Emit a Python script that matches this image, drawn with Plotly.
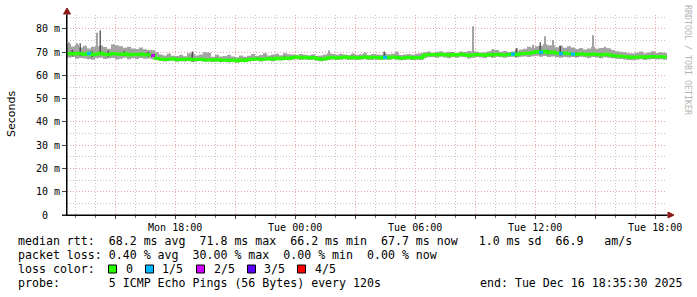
import plotly.graph_objects as go
import pandas as pd

# ---------------- data ----------------
START = "2025-12-15 12:35:30"
END = "2025-12-16 18:35:30"
STEP = "12min"

median_ms = [
    69.4, 69.2, 69.6, 69.3, 69.0, 69.5, 68.9, 69.2, 69.6, 69.1, 68.9, 69.4, 69.2, 69.0, 69.3, 68.8, 69.1, 68.9, 69.2, 68.8, 68.9,
    68.6, 67.4,
    67.1, 66.9, 67.0, 67.2, 66.8, 67.0, 66.9, 67.1, 66.8, 66.9, 67.0, 66.7, 66.8, 66.6, 66.9, 66.5, 66.7, 66.4, 66.6, 66.3, 66.6,
    66.4, 66.9, 67.0, 67.2, 66.9, 67.1, 67.3, 67.0, 67.4, 67.2, 67.5, 67.3,
    67.7, 67.9, 67.6, 67.8, 67.5, 67.7, 67.3, 67.0, 67.2, 67.6, 67.8, 67.5, 67.7, 67.9, 67.6, 67.8, 67.5, 67.7, 67.9, 67.6,
    67.8, 67.7, 67.5, 67.8, 67.6, 67.9, 67.7, 67.4, 67.6, 67.8, 67.5, 67.7, 67.6,
    68.7, 68.9, 69.0, 68.8, 69.1, 68.9, 68.7, 69.0, 68.8, 69.1, 68.9, 68.6, 68.8, 69.0, 68.9, 68.7, 69.0, 68.8, 69.1, 68.9,
    68.8, 69.0, 69.2, 68.9,
    69.3, 69.6, 69.4, 69.9, 70.3, 70.0, 70.4, 69.8, 70.1, 69.6, 69.4, 69.7, 69.3,
    69.2, 69.0, 69.3, 69.1, 68.9, 69.2, 69.0, 68.8, 69.1, 68.9,
    68.6, 68.4, 68.3, 68.1, 67.9, 67.7, 67.9, 68.1, 67.8, 68.0, 68.2, 68.0, 68.1, 67.9, 67.7,
]

smoke_hi_ms = [
    73.6, 72.5, 73.2, 72.0, 72.8, 71.6, 72.4, 72.6, 72.9, 72.2, 71.5, 73.4, 73.0, 72.6, 71.9, 72.3, 71.6, 71.4, 72.0, 71.3, 71.0,
    70.8, 70.0,
    69.0, 68.6, 69.4, 68.5, 68.4, 68.9, 68.3, 69.5, 69.2, 68.6, 69.0, 70.0, 69.8, 68.1, 68.9, 68.2, 68.4, 68.9, 68.2, 67.8, 68.6,
    68.0, 68.5, 69.2, 68.4, 68.8, 69.6, 68.6, 69.0, 69.3, 68.7, 69.5, 69.1,
    69.0, 68.8, 69.2, 68.9, 68.7, 69.1, 68.5, 68.6, 69.0, 69.6, 69.2, 68.9, 69.3, 69.0, 68.8, 69.4, 68.9, 69.1, 69.6, 68.8,
    69.2, 69.0, 68.9, 69.5, 69.1, 69.3, 69.9, 68.8, 69.0, 69.2, 68.9, 69.3, 69.5,
    70.0, 70.3, 69.8, 70.1, 70.4, 69.9, 70.2, 70.0, 69.7, 70.3, 70.1, 70.5, 70.3, 70.2, 69.9, 70.0, 70.4, 70.9, 71.0, 70.2,
    70.5, 70.1, 70.3, 70.6,
    71.2, 71.5, 72.3, 71.9, 72.6, 72.8, 73.5, 73.0, 73.0, 72.1, 72.8, 71.9, 72.6,
    72.0, 71.4, 71.8, 71.2, 71.6, 72.2, 71.5, 71.8, 71.9, 71.7,
    71.0, 70.4, 70.2, 70.0, 69.6, 69.4, 69.8, 70.3, 69.5, 69.9, 70.4, 69.7, 70.0, 69.8, 69.6,
]

smoke_lo_ms = [
    67.6, 67.9, 67.2, 67.5, 67.3, 67.0, 66.8, 67.4, 67.6, 67.1, 67.3, 67.5, 66.9, 67.2, 67.6, 67.0, 67.4, 67.1, 67.5, 67.2, 67.3,
    67.0, 66.6,
    66.3, 66.0, 66.2, 66.4, 65.9, 66.1, 66.0, 66.3, 65.8, 66.0, 66.2, 65.9, 66.0, 65.8, 66.1, 65.7, 65.9, 65.6, 65.8, 65.5, 65.8,
    65.7, 66.0, 66.2, 66.4, 66.0, 66.3, 66.5, 66.1, 66.6, 66.4, 66.7, 66.5,
    66.8, 67.0, 66.7, 66.9, 66.6, 66.8, 66.4, 66.1, 66.3, 66.7, 66.9, 66.6, 66.8, 67.0, 66.7, 66.9, 66.6, 66.8, 67.0, 66.7,
    66.9, 66.8, 66.6, 66.9, 66.7, 67.0, 66.8, 66.5, 66.7, 66.9, 66.6, 66.8, 66.7,
    67.5, 67.8, 67.9, 67.6, 68.0, 67.7, 67.4, 67.9, 67.6, 68.0, 67.8, 67.3, 67.6, 67.9, 67.7, 67.5, 67.9, 67.6, 68.0, 67.8,
    67.6, 67.9, 68.1, 67.7,
    68.0, 68.2, 67.9, 68.3, 68.5, 68.1, 68.4, 67.9, 68.2, 67.8, 67.6, 67.9, 67.7,
    67.9, 67.7, 68.0, 67.8, 67.5, 67.9, 67.7, 67.4, 67.8, 67.6,
    67.4, 67.2, 67.1, 66.9, 66.7, 66.5, 66.8, 67.0, 66.7, 66.9, 67.1, 66.9, 67.0, 66.8, 66.6,
]

# thin light-grey smoke spikes (sample index, top)
spike_idx = [0, 2, 7, 31, 65, 74, 82, 101, 106, 112, 116, 119, 121, 131, 134]
spike_top_ms = [74.3, 73.9, 78.4, 70.3, 70.7, 69.9, 70.3, 81.2, 71.4, 71.8, 73.2, 76.9, 75.3, 77.3, 72.3]

# darker smoke strokes (sample index, low, high)
dark_idx = [1, 3, 6, 8, 10, 14, 20, 31, 37, 44, 51, 54, 62, 71, 76, 79, 86, 96, 106, 112, 118, 120, 123, 127, 133, 136, 146]
dark_lo_ms = [68.3, 68.5, 67.8, 68.8, 67.9, 68.4, 68.0, 66.0, 66.0, 65.8, 66.3, 66.8, 66.5, 67.0, 66.9, 67.1, 66.8,
              68.2, 68.0, 68.1, 69.0, 69.0, 68.6, 68.2, 68.0, 67.8, 67.4]
dark_hi_ms = [71.0, 73.9, 70.4, 79.3, 70.6, 70.5, 70.1, 70.2, 67.6, 67.2, 67.9, 68.3, 68.0, 68.5, 68.4, 70.3, 68.3,
              69.9, 69.7, 71.5, 74.3, 71.0, 72.8, 70.0, 69.6, 69.4, 69.0]

# samples with packet loss (index, lost pings out of 5)
loss_idx = [5, 21, 79, 111, 118, 123, 126]
loss_level = [1, 2, 1, 1, 1, 1, 1]

loss_labels = ["0", "1/5", "2/5", "3/5", "4/5"]
loss_colors = ["#26ff00", "#00b8ff", "#d000ff", "#5a00ff", "#ff0000"]

y_tick_vals = [0, 10, 20, 30, 40, 50, 60, 70, 80]
y_tick_text = ["0\u00a0\u00a0", "10 m", "20 m", "30 m", "40 m", "50 m", "60 m", "70 m", "80 m"]

legend_lines = [
    "median rtt:  68.2 ms avg  71.8 ms max  66.2 ms min  67.7 ms now   1.0 ms sd  66.9   am/s",
    "packet loss: 0.40 % avg  30.00 % max  0.00 % min  0.00 % now",
    "loss color:",
    "probe:       5 ICMP Echo Pings (56 Bytes) every 120s",
]
end_text = "end: Tue Dec 16 18:35:30 2025"

# ---------------- layout constants ----------------
W, H = 697, 297
L, R, T, B = 67, 30, 15, 82
PW, PH = W - L - R, H - T - B
MONO = "DejaVu Sans Mono"


def px(x):
    return (x - L) / PW


def py(y):
    return (H - B - y) / PH


times = pd.date_range(START, periods=len(median_ms), freq=STEP)
half = pd.Timedelta(STEP) / 2

fig = go.Figure()

fig.add_trace(go.Scatter(x=times, y=smoke_lo_ms, mode="lines",
                         line=dict(width=0, shape="hv"), hoverinfo="skip", showlegend=False))
fig.add_trace(go.Scatter(x=times, y=smoke_hi_ms, mode="lines", fill="tonexty",
                         fillcolor="#a3a3a3", line=dict(width=0, shape="hv"),
                         hoverinfo="skip", showlegend=False))

sx, sy = [], []
for i, top in zip(spike_idx, spike_top_ms):
    t = times[i] + half
    sx += [t, t, None]
    sy += [median_ms[i], top, None]
fig.add_trace(go.Scatter(x=sx, y=sy, mode="lines", line=dict(color="#a3a3a3", width=2),
                         hoverinfo="skip", showlegend=False))

dx, dy = [], []
for i, lo, hi in zip(dark_idx, dark_lo_ms, dark_hi_ms):
    t = times[i] + half * 0.6
    dx += [t, t, None]
    dy += [lo, hi, None]
fig.add_trace(go.Scatter(x=dx, y=dy, mode="lines", line=dict(color="#3a3a3a", width=1.2),
                         hoverinfo="skip", showlegend=False))

fig.add_trace(go.Scatter(x=times, y=median_ms, mode="lines",
                         line=dict(color=loss_colors[0], width=3, shape="hv"),
                         hoverinfo="skip", showlegend=False))

for lvl in sorted(set(loss_level)):
    lx, ly = [], []
    for i, l in zip(loss_idx, loss_level):
        if l == lvl:
            lx += [times[i], times[i + 1], None]
            ly += [median_ms[i], median_ms[i], None]
    fig.add_trace(go.Scatter(x=lx, y=ly, mode="lines",
                             line=dict(color=loss_colors[lvl], width=3),
                             hoverinfo="skip", showlegend=False))

# x ticks every 3h (labels every 6h)
tick_times = pd.date_range("2025-12-15 15:00", END, freq="3h")
tick_text = [t.strftime("%a %H:%M") if t.hour % 6 == 0 else "" for t in tick_times]

RED = "#e9a5a5"
GRAY = "#c4c4c4"

fig.update_layout(
    width=W, height=H,
    margin=dict(l=L, r=R, t=T, b=B, autoexpand=False),
    paper_bgcolor="white", plot_bgcolor="white",
    showlegend=False,
    xaxis=dict(
        type="date", range=[START, END],
        tickmode="array", tickvals=tick_times, ticktext=tick_text,
        tickfont=dict(family=MONO, size=10, color="black"),
        showgrid=True, gridcolor=RED, griddash="1px,2px", gridwidth=1,
        ticks="outside", ticklen=3, tickcolor="#444",
        showline=True, linecolor="black", linewidth=1,
        zeroline=False,
        minor=dict(tickmode="linear", tick0="2025-12-15 00:00", dtick=3600000,
                   showgrid=True, gridcolor=GRAY, griddash="1px,2px", gridwidth=1,
                   ticks="outside", ticklen=2, tickcolor="#777"),
    ),
    yaxis=dict(
        range=[0, 86], tickmode="array", tickvals=y_tick_vals, ticktext=y_tick_text,
        tickfont=dict(family=MONO, size=10, color="black"),
        showgrid=True, gridcolor=RED, griddash="1px,2px", gridwidth=1,
        ticks="outside", ticklen=4, tickcolor="#444",
        showline=True, linecolor="black", linewidth=1,
        zeroline=False,
        minor=dict(tickmode="linear", tick0=0, dtick=5, showgrid=True,
                   gridcolor=GRAY, griddash="1px,2px", gridwidth=1),
    ),
)

shapes = [
    dict(type="line", xref="paper", yref="paper", x0=px(62), x1=px(670), y0=0, y1=0,
         line=dict(color="black", width=1)),
    dict(type="line", xref="paper", yref="paper", x0=0, x1=0, y0=0, y1=py(11),
         line=dict(color="black", width=1)),
    dict(type="path", xref="paper", yref="paper",
         path=f"M {px(668)},{py(212)} L {px(674)},{py(215)} L {px(668)},{py(218)} Z",
         fillcolor="#8b1a1a", line=dict(color="#8b1a1a", width=1)),
    dict(type="path", xref="paper", yref="paper",
         path=f"M {px(63.5)},{py(14)} L {px(67)},{py(8)} L {px(70.5)},{py(14)} Z",
         fillcolor="#8b1a1a", line=dict(color="#8b1a1a", width=1)),
]

box_left = [108.5, 145.5, 196.5, 247.5, 297.5]
label_left = [124, 160, 211.5, 262, 313]
for bl, col in zip(box_left, loss_colors):
    shapes.append(dict(type="rect", xref="paper", yref="paper",
                       x0=px(bl), x1=px(bl + 8), y0=py(273), y1=py(265),
                       fillcolor=col, line=dict(color="black", width=1)))
fig.update_layout(shapes=shapes)

ann = []
line_y = [241, 255, 269, 283]
for txt, yy in zip(legend_lines, line_y):
    ann.append(dict(text=txt.replace(" ", "\u00a0"), x=px(16), y=py(yy), xref="paper", yref="paper",
                    xanchor="left", yanchor="middle", showarrow=False,
                    font=dict(family=MONO, size=11.6, color="black")))
ann.append(dict(text=end_text.replace(" ", "\u00a0"), x=px(478), y=py(283), xref="paper", yref="paper",
                xanchor="left", yanchor="middle", showarrow=False,
                font=dict(family=MONO, size=11.6, color="black")))
for lx_, lab in zip(label_left, loss_labels):
    ann.append(dict(text=lab, x=px(lx_), y=py(269), xref="paper", yref="paper",
                    xanchor="left", yanchor="middle", showarrow=False,
                    font=dict(family=MONO, size=11.6, color="black")))
ann.append(dict(text="Seconds", x=px(11), y=py(114), xref="paper", yref="paper",
                xanchor="center", yanchor="middle", textangle=-90, showarrow=False,
                font=dict(family="DejaVu Sans", size=11, color="black")))
ann.append(dict(text="RRDTOOL / TOBI OETIKER", x=px(688), y=py(60), xref="paper", yref="paper",
                xanchor="center", yanchor="middle", textangle=90, showarrow=False,
                font=dict(family=MONO, size=8.3, color="#b4b4b4")))
fig.update_layout(annotations=ann)

fig.write_html("out.html")
